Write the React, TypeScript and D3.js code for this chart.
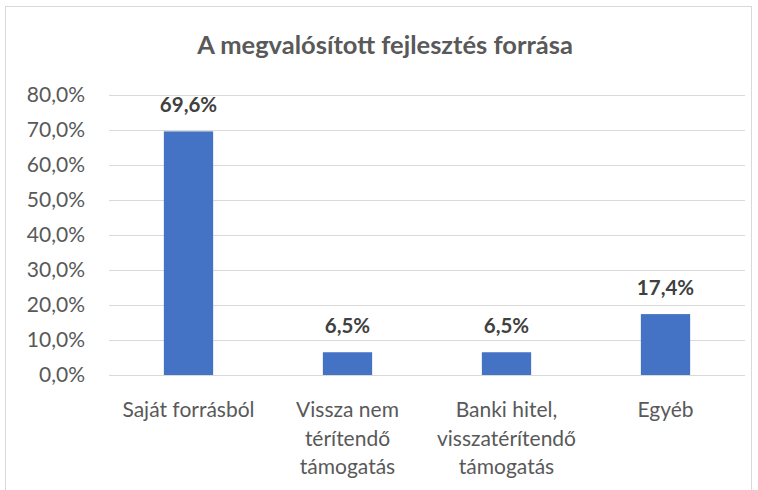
import React from 'react';
import * as d3 from 'd3';

const categories = [
    ['Saját forrásból'],
    ['Vissza nem', 'térítendő', 'támogatás'],
    ['Banki hitel,', 'visszatérítendő', 'támogatás'],
    ['Egyéb'],
];
const values = [69.6, 6.5, 6.5, 17.4];
const yTicks = [0, 10, 20, 30, 40, 50, 60, 70, 80];
const title = 'A megvalósított fejlesztés forrása';

const W = 758;
const H = 490;
const FONT = 'Lato, "Open Sans", sans-serif';

const fmt = (v: number) => v.toFixed(1).replace('.', ',') + '%';

const App = () => {
    const margin = {left: 109, right: 13, top: 95, bottom: 115};

    const x = d3.scaleBand<number>()
        .domain(d3.range(values.length))
        .range([margin.left, W - margin.right])
        .paddingInner(0.69)
        .paddingOuter(0.345);

    const y = d3.scaleLinear()
        .domain([0, 80])
        .range([H - margin.bottom, margin.top]);

    const step = (W - margin.right - margin.left) / values.length;

    return (
        <svg width={W} height={H} style={{position: 'absolute', left: 0, top: 0}} fontFamily={FONT}>
            <rect x={0} y={0} width={W} height={H} fill="#fff"/>
            <rect x={5.5} y={6.5} width={746} height={H} fill="none" stroke="#d9d9d9" strokeWidth={1}/>
            <text x={385} y={54} textAnchor="middle" fontSize={25.5} fontWeight="bold" fill="#595959">{title}</text>

            {yTicks.map(t => (
                <g key={t}>
                    <line x1={margin.left} x2={W - margin.right} y1={Math.round(y(t)) + 0.5} y2={Math.round(y(t)) + 0.5}
                          stroke="#d9d9d9" strokeWidth={1}/>
                    <text x={85} y={y(t)} dy="0.35em" textAnchor="end" fontSize={21} fill="#595959">{fmt(t)}</text>
                </g>
            ))}

            {values.map((v, i) => (
                <g key={i}>
                    <rect x={x(i)} y={y(v)} width={x.bandwidth()} height={y(0) - y(v)} fill="#4472c4"/>
                    <text x={x(i)! + x.bandwidth() / 2} y={y(v) - 19} textAnchor="middle" fontSize={20.5}
                          fontWeight="bold" fill="#404040">{fmt(v)}</text>
                </g>
            ))}

            {categories.map((lines, i) => (
                <text key={i} x={margin.left + step * (i + 0.5)} y={417} textAnchor="middle" fontSize={21} fill="#595959">
                    {lines.map((l, j) => (
                        <tspan key={j} x={margin.left + step * (i + 0.5)} dy={j === 0 ? 0 : 28.5}>{l}</tspan>
                    ))}
                </text>
            ))}
        </svg>
    );
};

export default App;
